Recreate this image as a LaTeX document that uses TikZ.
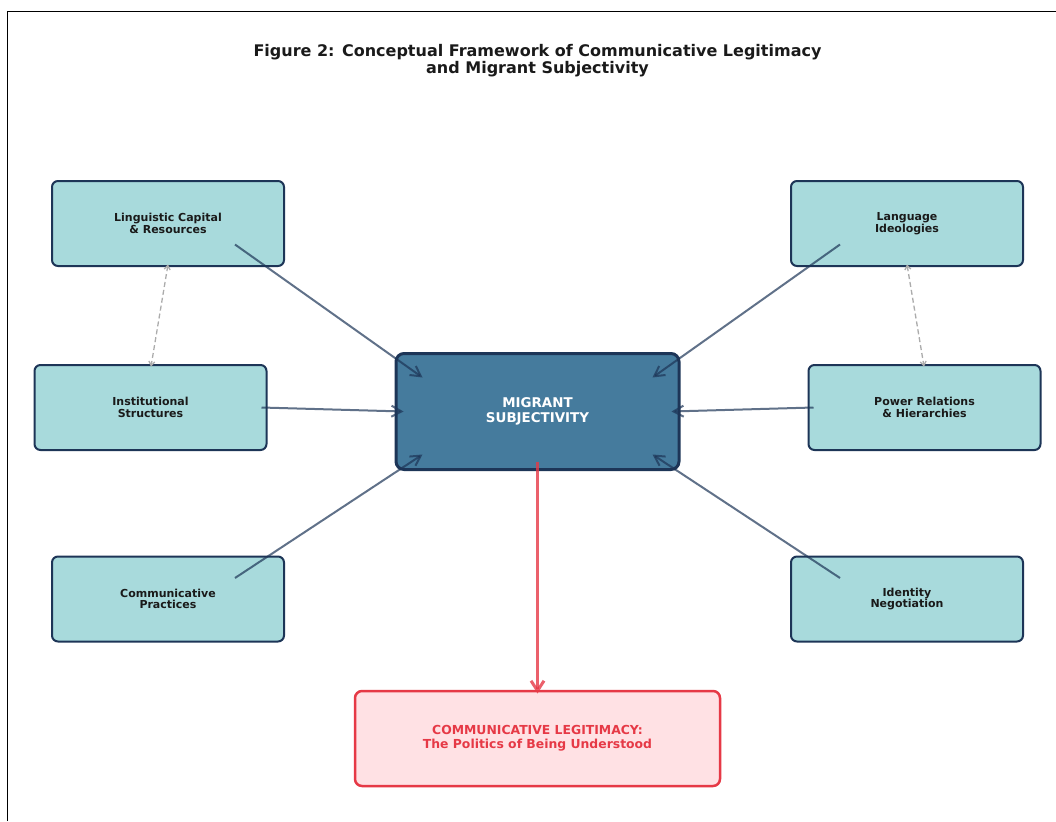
\documentclass[tikz,border=0pt]{standalone}
\usepackage{fontspec}
\setmainfont{DejaVu Sans}
\usetikzlibrary{arrows.meta,calc}
\definecolor{navy}{HTML}{1D3557}
\definecolor{teal}{HTML}{A8DADC}
\definecolor{steel}{HTML}{457B9D}
\definecolor{redc}{HTML}{E63946}
\definecolor{pinkc}{HTML}{FFE1E4}
\definecolor{titlec}{HTML}{1A1A1A}
\tikzset{
  x=1pt,y=1pt,
  outerbox/.style={draw=navy,fill=teal,line width=2pt,rounded corners=6pt,
    minimum width=232pt,minimum height=85pt,align=center,inner sep=0pt,
    font=\fontsize{11}{11.5}\selectfont\bfseries,text=titlec},
  centerbox/.style={draw=navy,fill=steel,line width=3pt,rounded corners=8pt,
    minimum width=283pt,minimum height=116pt,align=center,inner sep=0pt,
    font=\fontsize{13.4}{14.5}\selectfont\bfseries,text=white},
  resultbox/.style={draw=redc,fill=pinkc,line width=2.5pt,rounded corners=7pt,
    minimum width=365pt,minimum height=95pt,align=center,inner sep=0pt,
    font=\fontsize{12.4}{14}\selectfont\bfseries,text=redc},
  flow/.style={draw=navy,draw opacity=0.7,line width=2pt,
    -{Straight Barb[length=10pt,width=11pt,line width=2pt]}},
  relation/.style={draw=gray!65,line width=1.3pt,dashed,dash pattern=on 5pt off 3pt,
    {Straight Barb[length=4pt,width=6pt]}-{Straight Barb[length=4pt,width=6pt]}},
  outcome/.style={draw=redc,draw opacity=0.8,line width=3pt,
    -{Straight Barb[length=10pt,width=13pt,line width=3pt]}},
}
\begin{document}
\begin{tikzpicture}
\useasboundingbox (0,0) rectangle (1056,-821);
\fill[white] (0,0) rectangle (1056,-821);
\draw[black,line width=1.2pt] (7.5,-821) -- (7.5,-11.5) -- (1056,-11.5);

\node[font=\fontsize{16}{17}\selectfont\bfseries,text=titlec,align=center] (title) at (537.5,-60.5)
  {Figure 2: Conceptual Framework of Communicative Legitimacy\\and Migrant Subjectivity};

\node[outerbox] (lc) at (168,-223.5) {Linguistic Capital\\\& Resources};
\node[outerbox] (li) at (907,-223.5) {Language\\Ideologies};
\node[outerbox] (is) at (150.5,-407.5) {Institutional\\Structures};
\node[outerbox] (pr) at (924.5,-407.5) {Power Relations\\\& Hierarchies};
\node[outerbox] (cp) at (168,-599) {Communicative\\Practices};
\node[outerbox] (id) at (907,-599) {Identity\\Negotiation};
\node[centerbox] (ms) at (537.5,-411.5) {MIGRANT\\SUBJECTIVITY};
\node[resultbox] (cl) at (537.5,-738.5) {COMMUNICATIVE LEGITIMACY:\\The Politics of Being Understood};

\draw[relation] ($(lc)+(0,-41)$) -- ($(is)+(0.5,41)$);
\draw[relation] ($(li)+(0,-41)$) -- ($(pr)+(-0.5,41)$);

\draw[flow] ($(lc)+(67,-21)$) -- ($(ms)+(-115,34)$);
\draw[flow] ($(li)+(-67,-21)$) -- ($(ms)+(115,34)$);
\draw[flow] ($(is)+(111,0)$) -- ($(ms)+(-134,0)$);
\draw[flow] ($(pr)+(-111,0)$) -- ($(ms)+(134,0)$);
\draw[flow] ($(cp)+(67,21)$) -- ($(ms)+(-115,-43)$);
\draw[flow] ($(id)+(-67,21)$) -- ($(ms)+(115,-43)$);

\draw[outcome] ($(ms)+(0,-50)$) -- ($(cl)+(0,45)$);
\end{tikzpicture}
\end{document}
